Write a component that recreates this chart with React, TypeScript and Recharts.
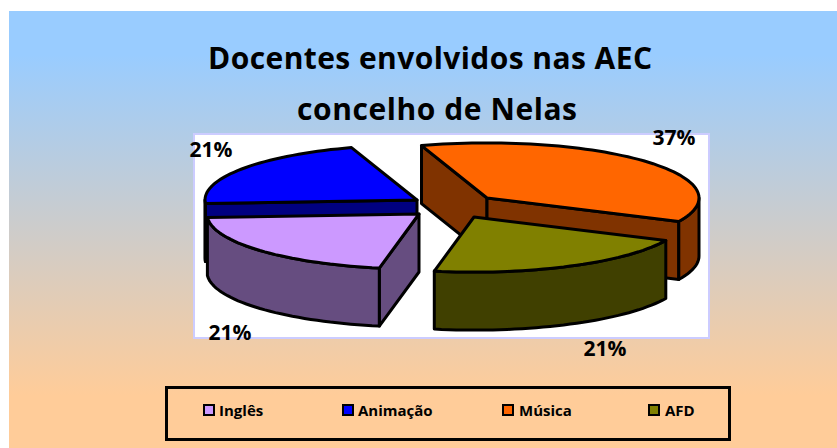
import { Legend, Pie, PieChart } from "recharts";

const WIDTH = 837;
const HEIGHT = 448;
const FONT = '"Open Sans", sans-serif';

const TITLE_LINES = ["Docentes envolvidos nas AEC", "concelho de Nelas"];

// legend order
const CATEGORIES = ["Inglês", "Animação", "Música", "AFD"];
const SHARES = [21, 21, 37, 21];
// back slices first so the front ones paint over them
const DRAW_ORDER = [1, 2, 3, 0];

const pieData = DRAW_ORDER.map((i) => ({ name: CATEGORIES[i], value: SHARES[i] }));

const TOP_COLORS: Record<string, string> = {
  Inglês: "#CC99FF",
  Animação: "#0000FF",
  Música: "#FF6600",
  AFD: "#808000",
};
const SIDE_COLORS: Record<string, string> = {
  Inglês: "#664D80",
  Animação: "#000080",
  Música: "#803300",
  AFD: "#404000",
};
// exploded slices
const SHIFTS: Record<string, [number, number]> = {
  Inglês: [-28, 6],
  Animação: [-30, -8],
  Música: [40, -10],
  AFD: [27, 9],
};
const LABEL_SPOTS: Record<string, [number, number]> = {
  Inglês: [230, 340],
  Animação: [211, 157],
  Música: [674, 145],
  AFD: [605, 356],
};
const LEGEND_SPOTS: Record<string, [number, number]> = {
  Inglês: [203, 219],
  Animação: [342, 358],
  Música: [502, 519],
  AFD: [648, 665],
};

const TILT = 0.26;
const DEPTH = 58;
const EDGE = { stroke: "#000", strokeWidth: 3, strokeLinejoin: "round" as const };

type Pt = [number, number];

function arc(cx: number, cy: number, r: number, from: number, to: number): Pt[] {
  const steps = Math.max(2, Math.ceil(Math.abs(to - from) / 2));
  const pts: Pt[] = [];
  for (let i = 0; i <= steps; i++) {
    const a = ((from + ((to - from) * i) / steps) * Math.PI) / 180;
    pts.push([cx + r * Math.cos(a), cy - r * TILT * Math.sin(a)]);
  }
  return pts;
}

const toPath = (pts: Pt[]) =>
  "M" + pts.map((p) => p[0].toFixed(1) + " " + p[1].toFixed(1)).join("L") + "Z";
const drop = (pts: Pt[]): Pt[] => pts.map((p) => [p[0], p[1] + DEPTH]);
const cosDeg = (a: number) => Math.cos((a * Math.PI) / 180);

function Slice3D(props: any) {
  const { cx, cy, outerRadius, startAngle, endAngle, name } = props;
  const [dx, dy] = SHIFTS[name];
  const x = cx + dx;
  const y = cy + dy;
  const apex: Pt = [x, y];
  const rim = arc(x, y, outerRadius, startAngle, endAngle);
  const first = rim[0];
  const last = rim[rim.length - 1];

  // part of the rim that faces the viewer (angles in the lower half)
  const walls: Pt[][] = [];
  for (let k = -2; k <= 1; k++) {
    const lo = Math.max(endAngle, -180 + k * 360);
    const hi = Math.min(startAngle, k * 360);
    if (hi > lo) {
      const part = arc(x, y, outerRadius, hi, lo);
      walls.push([...part, ...drop(part).reverse()]);
    }
  }
  const side = SIDE_COLORS[name];
  // the cut faces show only when they turn towards the viewer
  const showStart = cosDeg(startAngle) < 0;
  const showEnd = cosDeg(endAngle) > 0;
  return (
    <g>
      {showStart && <path d={toPath([apex, first, ...drop([first]), ...drop([apex])])} fill={side} {...EDGE} />}
      {showEnd && <path d={toPath([apex, last, ...drop([last]), ...drop([apex])])} fill={side} {...EDGE} />}
      {walls.map((w, i) => (
        <path key={i} d={toPath(w)} fill={side} {...EDGE} />
      ))}
      <path d={toPath([apex, ...rim])} fill={TOP_COLORS[name]} {...EDGE} />
    </g>
  );
}

function PercentLabel(props: any) {
  const [x, y] = LABEL_SPOTS[props.name];
  return (
    <text x={x} y={y} textAnchor="middle" fontFamily={FONT} fontWeight={700} fontSize={21} fill="#000">
      {Math.round(props.percent * 100)}%
    </text>
  );
}

function BoxLegend() {
  return (
    <div
      style={{
        position: "relative",
        width: 560,
        height: 49,
        border: "3px solid #000",
        fontFamily: FONT,
        fontWeight: 700,
        fontSize: 15,
      }}
    >
      {CATEGORIES.map((name) => {
        const [swatchX, textX] = LEGEND_SPOTS[name];
        return (
          <div key={name}>
            <div
              style={{
                position: "absolute",
                left: swatchX - 168,
                top: 15,
                width: 8,
                height: 8,
                background: TOP_COLORS[name],
                border: "2px solid #000",
              }}
            />
            <div style={{ position: "absolute", left: textX - 168, top: 11, lineHeight: "20px", color: "#000" }}>
              {name}
            </div>
          </div>
        );
      })}
    </div>
  );
}

export default function App() {
  return (
    <div style={{ position: "absolute", left: 0, top: 0, width: WIDTH, height: HEIGHT, background: "#fff", overflow: "hidden" }}>
      <div
        style={{
          position: "absolute",
          left: 9,
          top: 11,
          right: 0,
          bottom: 0,
          background: "linear-gradient(#99CCFF 10%, #FFCC99 88%)",
        }}
      />
      <PieChart width={WIDTH} height={HEIGHT} margin={{ top: 0, right: 0, bottom: 0, left: 0 }} style={{ position: "absolute" }}>
        <rect x={194} y={134} width={515} height={204} fill="#fff" stroke="#CCCCFF" strokeWidth={2} />
        <text x={430} y={69} textAnchor="middle" textLength={444} fontFamily={FONT} fontWeight={700} fontSize={30} fill="#000">
          {TITLE_LINES[0]}
        </text>
        <text x={437} y={120} textAnchor="middle" textLength={280} fontFamily={FONT} fontWeight={700} fontSize={30} fill="#000">
          {TITLE_LINES[1]}
        </text>
        <Pie
          data={pieData}
          dataKey="value"
          nameKey="name"
          cx={447}
          cy={208}
          innerRadius={0}
          outerRadius={212}
          startAngle={-176.4}
          endAngle={-536.4}
          stroke="none"
          shape={Slice3D}
          label={PercentLabel}
          labelLine={false}
          isAnimationActive={false}
        />
        <Legend content={BoxLegend} wrapperStyle={{ left: 165, top: 386, width: 566, height: 55, bottom: "auto" }} />
      </PieChart>
    </div>
  );
}
